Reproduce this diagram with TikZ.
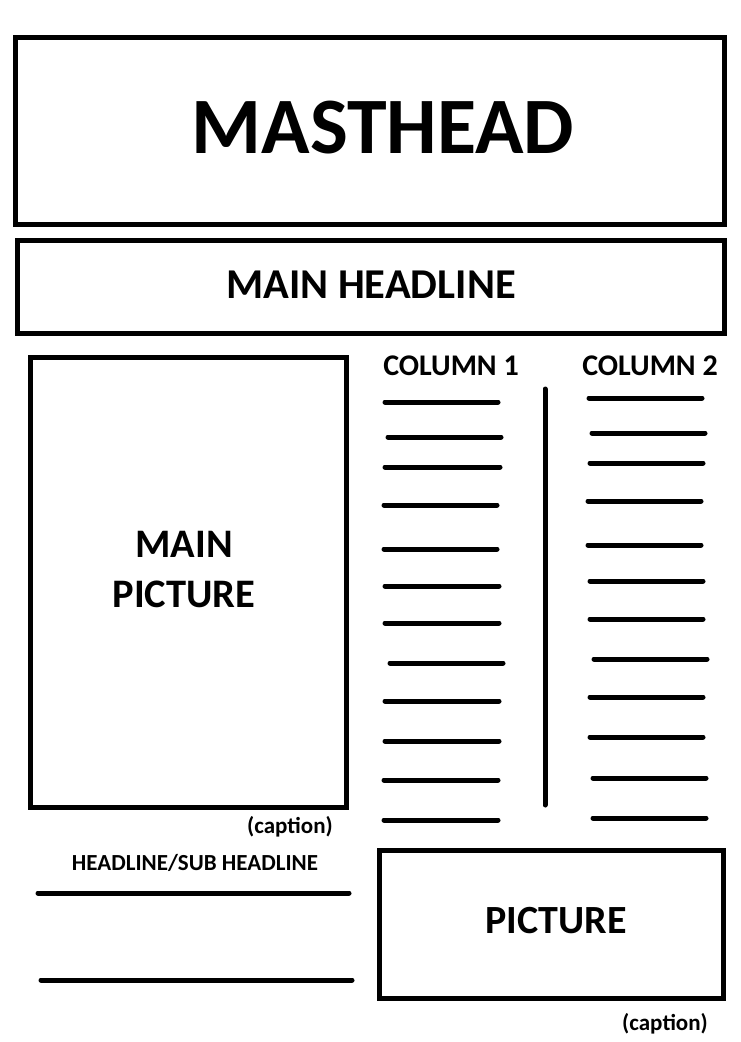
\documentclass[tikz,border=0pt]{standalone}
\usepackage{fontspec}
\setmainfont{Carlito}

\definecolor{ink}{rgb}{0,0,0}

\begin{document}
\begin{tikzpicture}[x=1pt, y=-1pt,
        frame/.style={ink, line width=5pt},
        textline/.style={ink, line width=5pt, line cap=round},
        label/.style={ink, inner sep=0pt, anchor=base, font=\bfseries}]
            \useasboundingbox (0,0) rectangle (740,1042);

            % boxes
            \draw[frame] (15.5,37.5) rectangle (724.5,224.5);
            \draw[frame] (17.5,240) rectangle (724.5,333.5);
            \draw[frame] (30.5,357.5) rectangle (346.5,807.5);
            \draw[frame] (379.5,850) rectangle (723.5,998.5);

            % box texts
            \node[label, font=\bfseries\fontsize{80}{81}\selectfont] (masthead) at (383,153) {MASTHEAD};
            \node[label, font=\bfseries\fontsize{42.5}{43}\selectfont] (headline) at (371,298) {MAIN HEADLINE};
            \node[label, font=\bfseries\fontsize{40.5}{41}\selectfont] (mainpic) at (184,557) {MAIN};
            \node[label, font=\bfseries\fontsize{40.5}{41}\selectfont] (mainpictwo) at (184,607) {PICTURE};
            \node[label, font=\bfseries\fontsize{40}{41}\selectfont] (pic) at (556,933) {PICTURE};

            % columns
            \node[label, font=\bfseries\fontsize{30}{31}\selectfont] (colone) at (451,375) {COLUMN 1};
            \node[label, font=\bfseries\fontsize{30}{31}\selectfont] (coltwo) at (650,375) {COLUMN 2};
            \draw[textline] (545,389) -- (545,805);

            \foreach \xa/\xb/\y in {385/498/402, 388/501/437, 385/500/467, 384/497/505,
                    384/497/549, 385/499/586, 385/499/623, 390/503/663,
                    385/499/701, 385/499/741, 384/498/780, 384/498/820}
                \draw[textline] (\xa,\y) -- (\xb,\y);
            \foreach \xa/\xb/\y in {589/702/398, 592/705/433, 590/703/463, 588/701/501,
                    588/701/545, 590/703/581, 590/703/619, 594/707/659,
                    590/703/697, 590/703/737, 593/706/778, 593/706/818}
                \draw[textline] (\xa,\y) -- (\xb,\y);

            % captions and sub headline
            \node[label, font=\bfseries\fontsize{23}{24}\selectfont] (caption) at (290,833) {(caption)};
            \node[label, font=\bfseries\fontsize{23}{24}\selectfont] (subhead) at (195,870) {HEADLINE/SUB HEADLINE};
            \node[label, font=\bfseries\fontsize{23}{24}\selectfont] (piccaption) at (665,1030) {(caption)};

            \draw[textline] (38,893) -- (349,893);
            \draw[textline] (41,980) -- (352,980);
        \end{tikzpicture}
\end{document}
